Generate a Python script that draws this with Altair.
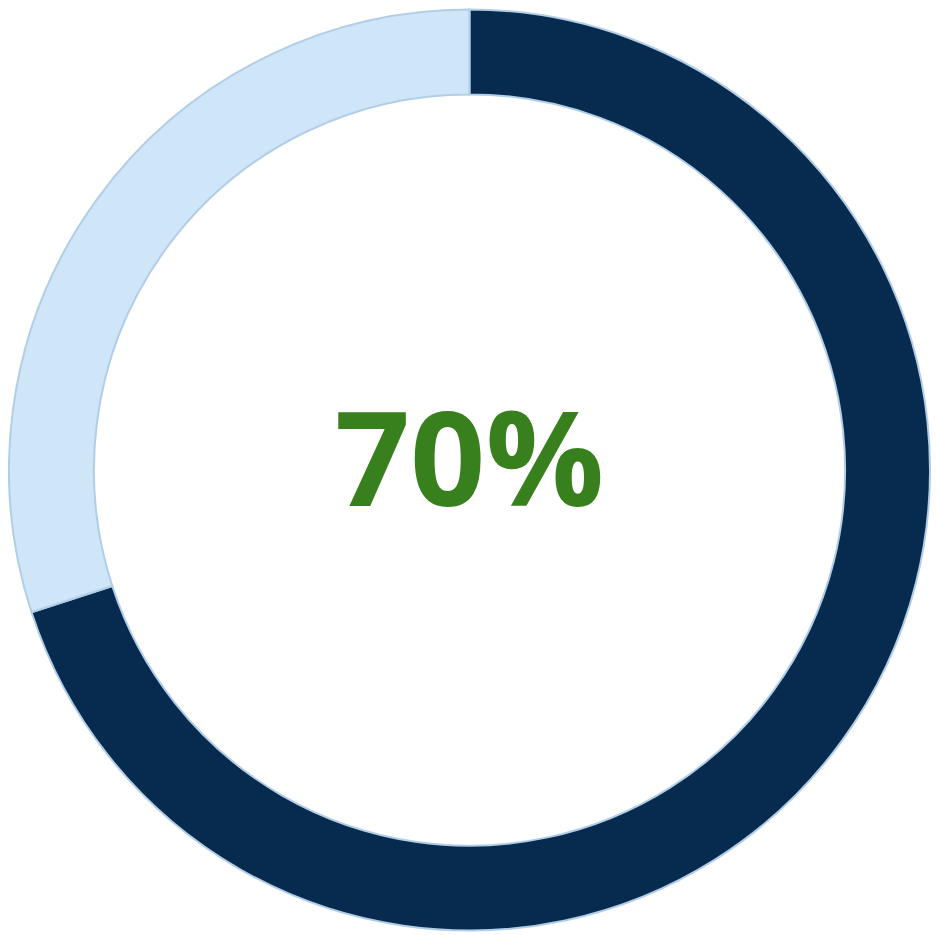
import altair as alt
import pandas as pd

categories = ["Complete", "Remaining"]
values = [70, 30]
order = [1, 2]
label_text = ["70%"]

colors = ["#062B4F", "#CFE5F8"]

df = pd.DataFrame({"category": categories, "value": values, "order": order})
lbl = pd.DataFrame({"label": label_text})

SIZE = 924
C = SIZE / 2

ring = alt.Chart(df).mark_arc(
    outerRadius=461, innerRadius=376, stroke="#B2CDE6", strokeWidth=2
).encode(
    theta=alt.Theta("value:Q", stack=True),
    order=alt.Order("order:Q", sort="ascending"),
    color=alt.Color("category:N", scale=alt.Scale(domain=categories, range=colors), legend=None),
)

text = alt.Chart(lbl).mark_text(
    font="Open Sans", fontWeight="bold", fontSize=132, color="#38801E",
    align="center", baseline="alphabetic"
).encode(
    text="label:N",
    x=alt.value(C),
    y=alt.value(498),
)

chart = alt.layer(ring, text).properties(
    width=SIZE, height=SIZE, padding=0, background="white",
    autosize=alt.AutoSizeParams(type="none")
).configure_view(stroke=None, strokeWidth=0)

chart.save("out.html", embed_options={"renderer": "svg", "actions": False})
